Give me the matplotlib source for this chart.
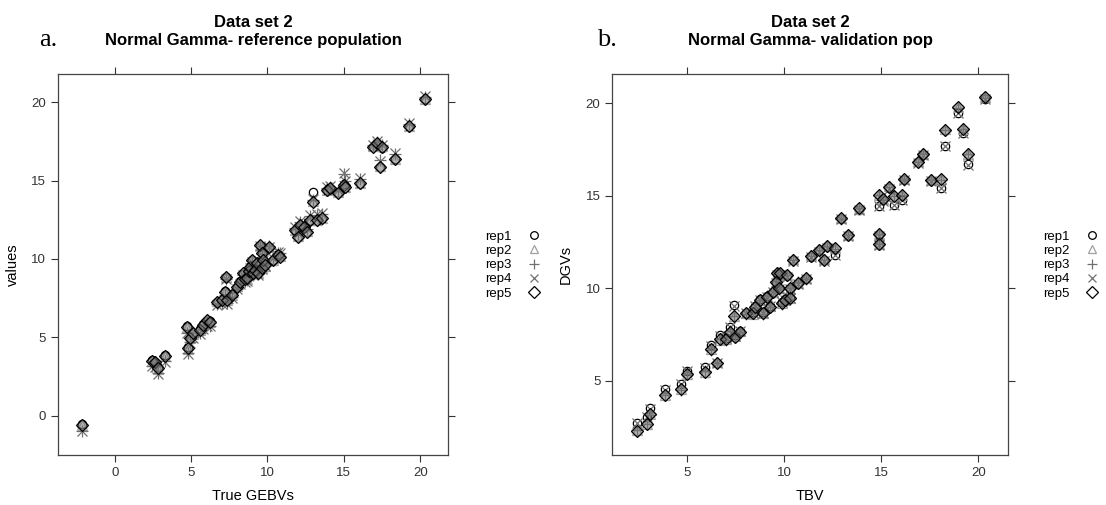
import numpy as np
import matplotlib
matplotlib.use("Agg")
import matplotlib.pyplot as plt
from matplotlib.lines import Line2D

plt.rcParams['font.family'] = ['Liberation Sans', 'DejaVu Sans']

# ---- panel a: reference population ----
gebv = [-2.16, 2.42, 2.64, 2.86, 3.30, 4.72, 4.83, 4.93, 5.15, 5.59, 5.81, 6.03, 6.24, 6.68,
        7.00, 7.23, 7.27, 7.34, 7.66, 7.99, 8.21, 8.43, 8.55, 8.65, 8.80, 8.86, 8.97, 9.08,
        9.20, 9.30, 9.41, 9.52, 9.63, 9.63, 9.74, 9.85, 10.07, 10.39, 10.72, 10.83, 11.81,
        12.03, 12.14, 12.36, 12.58, 12.79, 13.01, 13.23, 13.56, 13.89, 14.10, 14.65, 14.98,
        15.09, 16.07, 16.94, 17.16, 17.49, 17.38, 18.36, 19.24, 20.33]
a_rep1 = [-0.55, 3.52, 3.40, 3.10, 3.85, 5.70, 4.35, 4.90, 5.30, 5.50, 5.85, 6.05, 6.05, 7.25,
          7.40, 7.95, 8.85, 7.35, 7.75, 8.20, 8.60, 9.05, 8.75, 8.80, 9.20, 9.55, 9.90, 9.15,
          9.35, 9.70, 9.05, 10.85, 10.40, 9.45, 9.90, 9.65, 10.75, 9.90, 10.30, 10.20, 11.80,
          11.40, 12.15, 12.00, 11.70, 12.45, 14.30, 12.45, 12.55, 14.35, 14.45, 14.20, 14.80,
          14.55, 14.75, 17.15, 17.35, 17.10, 15.85, 16.40, 18.40, 20.20]
a_rep2 = [-0.62, 3.47, 3.44, 3.00, 3.78, 5.65, 4.28, 4.96, 5.24, 5.45, 5.77, 6.12, 5.98, 7.30,
          7.36, 7.89, 8.85, 7.40, 7.68, 8.25, 8.53, 9.07, 8.72, 8.75, 9.27, 9.49, 9.92, 9.11,
          9.28, 9.74, 9.11, 10.87, 10.34, 9.42, 9.96, 9.58, 10.77, 9.96, 10.24, 10.17, 11.87,
          11.45, 12.15, 12.08, 11.76, 12.51, 13.70, 12.51, 12.62, 14.42, 14.48, 14.25, 14.75,
          14.62, 14.85, 17.19, 17.36, 17.19, 15.90, 16.40, 18.47, 20.21]
a_rep3 = [-0.95, 3.20, 3.15, 2.70, 3.50, 5.30, 4.00, 4.70, 5.00, 5.25, 5.55, 5.80, 5.75, 7.10,
          7.20, 7.70, 8.75, 7.20, 7.55, 8.10, 8.45, 9.00, 8.60, 8.65, 9.15, 9.45, 9.85, 9.00,
          9.25, 9.65, 9.05, 10.85, 10.30, 9.40, 9.95, 9.60, 10.80, 10.00, 10.40, 10.35, 12.00,
          11.60, 12.35, 12.25, 11.90, 12.75, 13.75, 12.80, 12.85, 14.55, 14.60, 14.35, 15.40,
          14.95, 15.10, 17.25, 17.45, 17.25, 16.30, 16.70, 18.60, 20.35]
a_rep4 = [-1.00, 3.15, 3.10, 2.65, 3.45, 5.25, 3.95, 4.65, 4.95, 5.20, 5.50, 5.75, 5.70, 7.05,
          7.15, 7.65, 8.70, 7.15, 7.50, 8.05, 8.40, 8.95, 8.55, 8.60, 9.10, 9.40, 9.80, 8.95,
          9.20, 9.60, 9.00, 10.80, 10.25, 9.35, 9.90, 9.55, 10.75, 10.05, 10.45, 10.40, 12.05,
          11.65, 12.40, 12.30, 11.95, 12.80, 13.80, 12.85, 12.90, 14.60, 14.65, 14.40, 15.50,
          15.00, 15.15, 17.30, 17.50, 17.30, 16.25, 16.75, 18.65, 20.40]
a_rep5 = [-0.60, 3.49, 3.45, 3.02, 3.81, 5.68, 4.30, 4.94, 5.26, 5.47, 5.79, 6.10, 6.00, 7.28,
          7.38, 7.91, 8.87, 7.38, 7.70, 8.23, 8.55, 9.09, 8.70, 8.77, 9.25, 9.51, 9.94, 9.09,
          9.30, 9.72, 9.09, 10.89, 10.36, 9.40, 9.94, 9.60, 10.79, 9.94, 10.26, 10.15, 11.85,
          11.43, 12.17, 12.06, 11.74, 12.49, 13.66, 12.49, 12.60, 14.40, 14.50, 14.23, 14.72,
          14.60, 14.83, 17.17, 17.38, 17.17, 15.85, 16.36, 18.45, 20.19]

# ---- panel b: validation population ----
tbv = [2.43, 2.94, 3.11, 3.89, 4.71, 5.00, 5.94, 6.54, 6.25, 6.71, 7.02, 7.23, 7.49, 7.74, 7.43,
       8.03, 8.43, 8.51, 8.77, 8.94, 9.11, 9.29, 9.46, 9.63, 9.80, 9.58, 9.75, 9.89, 10.06,
       10.14, 10.31, 10.31, 10.45, 10.74, 11.12, 11.39, 11.81, 12.06, 12.20, 12.63, 12.92,
       13.31, 13.88, 14.91, 14.91, 14.91, 15.11, 15.42, 15.66, 16.06, 16.18, 16.91, 17.14,
       17.57, 18.06, 18.29, 18.97, 19.20, 19.49, 20.34]
b_rep1 = [2.73, 3.05, 3.50, 4.53, 4.82, 5.54, 5.72, 5.97, 6.93, 7.47, 7.30, 7.92, 7.45, 7.70,
          9.09, 8.68, 8.70, 9.05, 9.40, 8.70, 9.55, 9.05, 9.80, 10.75, 10.75, 10.30, 9.95, 9.25,
          9.40, 10.65, 9.95, 9.50, 11.50, 10.25, 10.50, 11.70, 12.00, 11.50, 12.20, 11.80, 13.75,
          12.85, 14.25, 12.85, 12.35, 14.45, 14.75, 15.40, 14.50, 14.77, 15.85, 16.80, 17.20,
          15.80, 15.44, 17.71, 19.49, 18.41, 16.70, 20.25]
b_rep2 = [2.32, 2.68, 3.20, 4.20, 4.55, 5.38, 5.47, 5.99, 6.70, 7.22, 7.26, 7.63, 7.40, 7.67,
          8.48, 8.66, 8.62, 9.02, 9.34, 8.66, 9.52, 9.02, 9.79, 10.78, 10.82, 10.33, 10.01, 9.20,
          9.34, 10.73, 9.97, 9.47, 11.55, 10.28, 10.55, 11.78, 12.05, 11.55, 12.30, 12.18, 13.80,
          12.90, 14.30, 12.95, 12.41, 15.06, 14.83, 15.51, 15.01, 15.06, 15.91, 16.86, 17.28,
          15.87, 15.91, 18.58, 19.79, 18.63, 17.28, 20.34]
b_rep3 = [2.33, 2.64, 3.16, 4.24, 4.51, 5.34, 5.51, 5.95, 6.67, 7.26, 7.22, 7.67, 7.36, 7.63,
          8.52, 8.62, 8.66, 8.98, 9.38, 8.62, 9.56, 8.98, 9.83, 10.82, 10.78, 10.37, 9.97, 9.16,
          9.38, 10.69, 10.01, 9.43, 11.51, 10.32, 10.51, 11.74, 12.09, 11.51, 12.26, 12.14, 13.76,
          12.86, 14.34, 12.91, 12.37, 15.02, 14.79, 15.47, 14.97, 15.02, 15.87, 16.82, 17.24,
          15.83, 15.87, 18.54, 19.75, 18.59, 17.24, 20.30]
b_rep4 = [2.70, 3.02, 3.47, 4.50, 4.80, 5.52, 5.70, 5.95, 6.90, 7.44, 7.28, 7.90, 7.43, 7.68,
          9.06, 8.66, 8.68, 9.03, 9.38, 8.68, 9.53, 9.03, 9.78, 10.73, 10.73, 10.28, 9.93, 9.23,
          9.38, 10.63, 9.93, 9.48, 11.48, 10.23, 10.48, 11.68, 11.98, 11.48, 12.18, 11.78, 13.73,
          12.83, 14.23, 12.83, 12.33, 14.43, 14.73, 15.38, 14.48, 14.75, 15.83, 16.78, 17.18,
          15.78, 15.42, 17.69, 19.47, 18.39, 16.68, 20.23]
b_rep5 = [2.30, 2.66, 3.18, 4.22, 4.53, 5.36, 5.49, 5.97, 6.69, 7.24, 7.24, 7.65, 7.38, 7.65,
          8.50, 8.64, 8.64, 9.00, 9.36, 8.64, 9.54, 9.00, 9.81, 10.80, 10.80, 10.35, 9.99, 9.18,
          9.36, 10.71, 9.99, 9.45, 11.53, 10.30, 10.53, 11.76, 12.07, 11.53, 12.28, 12.16, 13.78,
          12.88, 14.32, 12.93, 12.39, 15.04, 14.81, 15.49, 14.99, 15.04, 15.89, 16.84, 17.26,
          15.85, 15.89, 18.56, 19.77, 18.61, 17.26, 20.32]

rep_names = ['rep1', 'rep2', 'rep3', 'rep4', 'rep5']

# marker, edge colour, face colour, size
styles = [
    ('o', 'black', 'none', 6),
    ('^', '#a0a0a0', 'none', 6.5),
    ('+', '#707070', 'none', 8),
    ('x', '#707070', 'none', 6.5),
    ('D', 'black', (0.45, 0.45, 0.45, 0.55), 6.5),
]

fig = plt.figure(figsize=(11.06, 5.05), dpi=100)
ax_a = fig.add_axes([0.0522, 0.099, 0.353, 0.7545])
ax_b = fig.add_axes([0.5536, 0.099, 0.3578, 0.7545])


def draw_panel(ax, x, reps):
    for (mk, ec, fc, ms), y in zip(styles, reps):
        ax.plot(x, y, linestyle='none', marker=mk, markersize=ms,
                markeredgecolor=ec, markerfacecolor=fc, markeredgewidth=0.9)
    for side in ax.spines.values():
        side.set_color('#444444')
        side.set_linewidth(0.9)
    ax.tick_params(direction='out', length=5, width=0.8, colors='#333333',
                   top=True, right=True, labeltop=False, labelright=False,
                   labelsize=9.5)


draw_panel(ax_a, gebv, [a_rep1, a_rep2, a_rep3, a_rep4, a_rep5])
ax_a.set_xlim(-3.73, 21.83)
ax_a.set_ylim(-2.51, 21.8)
ax_a.set_xticks([0, 5, 10, 15, 20])
ax_a.set_yticks([0, 5, 10, 15, 20])
ax_a.set_xlabel('True GEBVs', fontsize=10.5, labelpad=7)
ax_a.set_ylabel('values', fontsize=10.5, labelpad=8)
ax_a.set_title('Data set 2\nNormal Gamma- reference population',
               fontsize=12, fontweight='bold', pad=21, linespacing=1.2)

draw_panel(ax_b, tbv, [b_rep1, b_rep2, b_rep3, b_rep4, b_rep5])
ax_b.set_xlim(1.17, 21.53)
ax_b.set_ylim(0.98, 21.58)
ax_b.set_xticks([5, 10, 15, 20])
ax_b.set_yticks([5, 10, 15, 20])
ax_b.set_xlabel('TBV', fontsize=10.5, labelpad=7)
ax_b.set_ylabel('DGVs', fontsize=10.5, labelpad=9)
ax_b.set_title('Data set 2\nNormal Gamma- validation pop',
               fontsize=12, fontweight='bold', pad=21, linespacing=1.2)

# panel letters
fig.text(0.035, 0.908, 'a.', fontsize=19, family='Liberation Serif')
fig.text(0.540, 0.908, 'b.', fontsize=19, family='Liberation Serif')

# legends to the right of each panel
handles = [Line2D([], [], linestyle='none', marker=mk, markersize=ms - 0.5,
                  markeredgecolor=ec, markerfacecolor='none', markeredgewidth=0.9)
           for mk, ec, fc, ms in styles]
for xpos in (0.433, 0.937):
    fig.legend(handles, rep_names, loc='center left', bbox_to_anchor=(xpos, 0.475),
               frameon=False, markerfirst=False, fontsize=9.5, handlelength=1.0,
               handletextpad=1.2, labelspacing=0.15, borderpad=0)

fig.savefig('out.png', dpi=100)
